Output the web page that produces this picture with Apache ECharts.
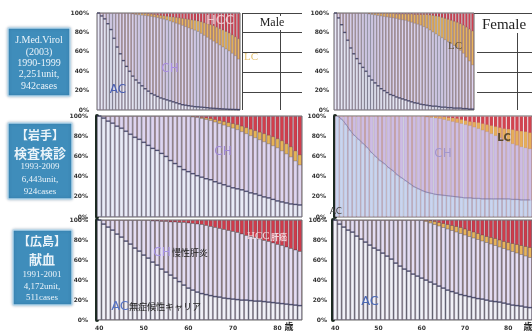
<!DOCTYPE html>
<html>
<head>
<meta charset="utf-8">
<script src="https://cdn.jsdelivr.net/npm/echarts@6/dist/echarts.min.js"></script>
<style>html,body{margin:0;padding:0;background:#fff}#c{width:532px;height:333px}</style>
</head>
<body>
<div id="c"></div>
<script>
// ages (categories)
var ages = ['40','41','42','43','44','45','46','47','48','49','50','51','52','53','54','55','56','57','58','59','60','61','62','63','64','65','66','67','68','69','70','71','72','73','74','75','76','77','78','79','80','81','82','83','84','85'];
var yTicks = [0, 20, 40, 60, 80, 100];
// cumulative share (%) : top of AC, top of CH, top of LC; total = 100
var total = [100,100,100,100,100,100,100,100,100,100,100,100,100,100,100,100,100,100,100,100,100,100,100,100,100,100,100,100,100,100,100,100,100,100,100,100,100,100,100,100,100,100,100,100,100,100];

// J.Med.Virol male
var acTopJmMale = [100,97,94,89,83,74,65,58,51,45,40,35,31,28,25,22,19.5,17,15.5,14,12.5,11.5,10.5,9.5,8.5,7.5,6.5,5.5,5,4.5,4,3.5,3.3,3,2.7,2.4,2,1.8,1.6,1.4,1.2,1,0.8,0.7,0.6,0.5];
var chTopJmMale = [100,100,100,100,100,100,100,100,100,100,100,99.5,99,98.7,98.3,98,97.5,97,96.5,95.8,95,94.2,93.3,92.3,91.2,90,89,87.8,86.5,85.2,84,82.8,81.5,79.5,77.5,75.5,73.5,71.5,69.5,67.5,65.5,63.5,61.5,59,56.5,53];
var lcTopJmMale = [100,100,100,100,100,100,100,100,100,100,100,100,100,100,100,100,99.7,99.4,99,98.5,98,97.6,97.2,96.8,96.4,96,95.5,95,94.5,94,93.5,93,92.3,91.5,90.5,89.5,88.5,87.5,86,84.5,83,81.5,80,78,76,74];
// J.Med.Virol female
var acTopJmFemale = [100,95,88,80,72,64,58,53,48,44,40,35,31,28,25,22,20,18,16,15,13.5,12.5,11.5,10.5,9.5,8.5,7.5,7,6,5.5,5,4.5,4,4,3.5,3,3,2.5,2.5,2,2,2,1.5,1.5,1,1];
var chTopJmFemale = [100,100,100,100,100,100,100,100,100,100,100,99.5,99,98.5,98,97.5,97,96.5,96,95.5,95,94,93.5,93,92,91,90,89,88,86.5,85,83,81,79,77,75,73,71,69,67,65,62,59,55,51,47];
var lcTopJmFemale = [100,100,100,100,100,100,100,100,100,100,100,100,100,100,100,100,100,100,100,100,99.5,99.5,99.5,99.5,99.5,99.5,99,99,99,99,99,98.5,98,97.5,97,96,95,94,93,92,91,89.5,88,86,84,82];
// Iwate male
var acTopIwMale = [100,98,95,93,90,88,85,82,79,77,74,71,68,66,63,60,56,53,50,47,45,43,41,39.5,38,37,35,33.5,32,30.5,29,28,27,25.5,24,23,21.5,20,19,17.5,16,15,14,13,12.5,12];
var chTopIwMale = [100,100,100,100,100,100,100,100,100,100,100,100,100,100,100,100,100,100,100,100,100,99.5,99,98,97,96,94.5,93,91.5,90,88.5,87,85,83,81,79,77,75,73,71,69,66,63,60,56,52];
var lcTopIwMale = [100,100,100,100,100,100,100,100,100,100,100,100,100,100,100,100,100,100,100,100,100,100,99.5,99,98.5,98,97,96,95,94,93,92,90.5,89,87.5,86,84.5,83,81.5,80,78,76,73,70,66,62];
// Iwate female
var acTopIwFemale = [100,97,92,86,81,77,73,69,64,60,56,53,49,46,42,39,36,33,30,28,26,24.5,23.5,22.5,22,21.5,21,20.5,20,19.5,19,19,18.5,18.5,18,18,18,18,18,18,18,17.5,17.5,17,17,17];
var chTopIwFemale = [100,100,100,100,100,100,100,100,100,100,100,100,100,100,100,100,100,100,100,100,100,99.5,99,98.5,98,97,96,95,94,93,92,91,89.5,88,86.5,85,83,81,79,77,75,73,71.5,70,69,68];
var lcTopIwFemale = [100,100,100,100,100,100,100,100,100,100,100,100,100,100,100,100,100,100,100,100,100,100,100,100,100,99.5,99,98.5,98,97,96,95,94.5,94,93,92,91,90,89,88,87.5,87,86,85.5,85,84];
// Hiroshima male (no LC band)
var acTopHsMale = [100,96,93,90,86,83,79,76,72,69,65,62,58,55,51,48,45,42,38.5,35,32,30,28,26.5,25.5,24.5,23.5,23,22,21.5,21,20.5,20,20,19.5,19,19,18.5,18,17.5,17,16.5,16,15.5,15,14.5];
var chTopHsMale = [100,100,100,100,100,100,100,100,100,100,100,100,99.5,99.5,99,99,98.5,98.5,98,98,97.5,97,96.5,96,95,94,93,92,91,90,89,88,86.5,85,84,83,81.5,80,79,77.5,76,75,73.5,72,70.5,69];
var lcTopHsMale = chTopHsMale;
// Hiroshima female
var acTopHsFemale = [100,96,93,90,88,84,81,78,75,72,70,67,64,61,57,54,51,49,46,44,42,40,38,36,34,32,30,28.5,27,25.5,24.5,23.5,22.5,21.5,21,20,19,18.5,18,17,16,15,14.5,14,13,12.5];
var chTopHsFemale = [100,100,100,100,100,100,100,100,100,100,100,100,100,100,100,100,100,100,100,100,100,99,97.5,96,94.5,93,91.5,90,88.5,87,85.5,84,82.5,81,79.5,78,76.5,75,73.5,72,70.5,69,67.5,66,64.5,63];
var lcTopHsFemale = [100,100,100,100,100,100,100,100,100,100,100,100,100,100,100,100,100,100,100,100,100,100,99.5,99,98,97,96,95,94,93,91.5,90,88.5,87,85.5,84,83,82,80.5,79,78,77,76,75,74,73];

var panels = [
  {g:{left:97,top:13,width:143,height:97}, ac:acTopJmMale, ch:chTopJmMale, lc:lcTopJmMale, xl:false, bar:false, lm:8,
   col:['#e9eaf7','#ddd5f1','#eab75e','#d1404e'], stripe:'rgba(80,80,105,0.28)', dash:[3.1,1.3]},
  {g:{left:334,top:13,width:140,height:97}, ac:acTopJmFemale, ch:chTopJmFemale, lc:lcTopJmFemale, xl:false, bar:false, lm:5,
   col:['#e9eaf7','#ddd5f1','#eab75e','#d1404e'], stripe:'rgba(80,80,105,0.28)', dash:[3,1.3]},
  {g:{left:97,top:116,width:205,height:101}, ac:acTopIwMale, ch:chTopIwMale, lc:lcTopIwMale, xl:false, bar:true, lm:9,
   col:['#e9ebf7','#ded5f0','#e6b456','#d23d4b'], stripe:'rgba(70,70,95,0.32)', dash:[4.4,1.3]},
  {g:{left:335,top:116,width:205,height:101}, ac:acTopIwFemale, ch:chTopIwFemale, lc:lcTopIwFemale, xl:false, bar:true, lm:9,
   col:['#c9d5ef','#cdbde4','#e7ae5a','#d3434f'], stripe:'rgba(90,90,130,0.1)', dash:null},
  {g:{left:97,top:220,width:205,height:100}, ac:acTopHsMale, ch:chTopHsMale, lc:lcTopHsMale, xl:true, bar:true, lm:9,
   col:['#f1f1f8','#e4ddf3','#e8b45a','#cf3b4a'], stripe:'rgba(60,60,80,0.36)', dash:[4.4,1.3]},
  {g:{left:333,top:220,width:205,height:100}, ac:acTopHsFemale, ch:chTopHsFemale, lc:lcTopHsFemale, xl:true, bar:true, lm:6,
   col:['#f1f1f8','#e4ddf3','#e8b45a','#cf3b4a'], stripe:'rgba(60,60,80,0.36)', dash:[4.4,1.3]}
];

var grid = [], xAxis = [], yAxis = [], series = [];
panels.forEach(function (p, i) {
  grid.push(Object.assign({show:true, borderColor:'#666', borderWidth:1, backgroundColor:'transparent'}, p.g));
  xAxis.push({type:'category', gridIndex:i, data:ages, boundaryGap:true,
    axisLine:{show:false}, axisTick:{show:false}, splitLine:{show:false},
    axisLabel:{show:p.xl, interval:9, fontSize:6, color:'#333', fontWeight:'bold', margin:5, fontFamily:'DejaVu Sans'}});
  yAxis.push({type:'value', gridIndex:i, min:yTicks[0], max:yTicks[yTicks.length-1], interval:20,
    splitLine:{show:false}, axisTick:{show:false},
    axisLine:{show:p.bar, lineStyle:{color:'#1c2a22', width:4}},
    axisLabel:{fontSize:6, color:'#333', fontWeight:'bold', margin:p.lm, fontFamily:'DejaVu Sans', formatter:'{value}%'}});
  var layers = [['HCC', total, p.col[3]], ['LC', p.lc, p.col[2]], ['CH', p.ch, p.col[1]], ['AC', p.ac, p.col[0]]];
  layers.forEach(function (l, k) {
    series.push({type:'bar', name:l[0], xAxisIndex:i, yAxisIndex:i, data:l[1], barGap:'-100%', barCategoryGap:'0%',
      itemStyle:{color:l[2], borderColor:p.stripe, borderWidth:1}, z:2+k, animation:false, silent:true});
  });
  if (p.dash) {
    series.push({type:'scatter', xAxisIndex:i, yAxisIndex:i, data:p.ac, symbol:'rect', symbolSize:p.dash,
      itemStyle:{color:'#34375c'}, z:10, animation:false, silent:true});
  } else {
    series.push({type:'line', xAxisIndex:i, yAxisIndex:i, data:p.ac, smooth:true,
      symbol:'none', z:10, animation:false, silent:true,
      lineStyle:{color:'rgba(100,100,150,0.6)', width:1}});
  }
});

function t(x, y, s, font, fill, align) {
  return {type:'text', x:x, y:y, z:100, silent:true,
    style:{text:s, font:font, fill:fill, align:align||'center', verticalAlign:'middle', textAlign:align||'center', textVerticalAlign:'middle'}};
}
function ln(x1, y1, x2, y2) {
  return {type:'line', z:50, silent:true, shape:{x1:x1, y1:y1, x2:x2, y2:y2}, style:{stroke:'#444', lineWidth:1}};
}
function box(x, y, w, h) {
  return {type:'rect', z:40, silent:true, shape:{x:x, y:y, width:w, height:h, r:1},
    style:{fill:'#3f8dbb', stroke:'rgba(190,220,238,0.9)', lineWidth:1.5, shadowBlur:3, shadowColor:'rgba(0,60,100,0.35)'}};
}
var serif = 'Liberation Serif';
var cjk = '"Noto Sans CJK JP"';
var boxText = '#eaf3f9';
var graphics = [
  // Male legend area
  ln(242.5,13,242.5,110), ln(280.5,13,280.5,110),
  ln(242,13.5,302,13.5), ln(242,32.5,302,32.5), ln(242,52.5,302,52.5), ln(242,72.5,302,72.5), ln(242,92.5,302,92.5),
  {type:'rect', z:55, silent:true, shape:{x:256, y:16, width:33, height:14}, style:{fill:'#fff'}},
  t(272, 23, 'Male', '12px ' + serif, '#222'),
  // Female legend area
  ln(474,13.5,532,13.5), ln(477,52.5,532,52.5), ln(477,72.5,532,72.5), ln(477,92.5,532,92.5), ln(517.5,33,517.5,110),
  t(504, 25, 'Female', '15px ' + serif, '#222'),
  // source boxes
  box(8, 28, 62, 68),
  t(39, 40, 'J.Med.Virol', '10px ' + serif, boxText),
  t(39, 52, '(2003)', '10px ' + serif, boxText),
  t(39, 63, '1990-1999', '10px ' + serif, boxText),
  t(39, 74, '2,251unit,', '10px ' + serif, boxText),
  t(39, 86, '942cases', '10px ' + serif, boxText),
  box(8, 123, 64, 76),
  t(40, 135, '【岩手】', 'bold 12px ' + cjk, boxText),
  t(40, 153, '検査検診', 'bold 13px ' + cjk, boxText),
  t(40, 167, '1993-2009', '9px ' + serif, boxText),
  t(40, 180, '6,443unit,', '9px ' + serif, boxText),
  t(40, 192, '924cases', '9px ' + serif, boxText),
  box(13, 230, 59, 75),
  t(42, 241, '【広島】', 'bold 12px ' + cjk, boxText),
  t(42, 259, '献血', 'bold 13px ' + cjk, boxText),
  t(42, 275, '1991-2001', '9px ' + serif, boxText),
  t(42, 287, '4,172unit,', '9px ' + serif, boxText),
  t(42, 298, '511cases', '9px ' + serif, boxText),
  // in-chart annotations
  t(220, 21, 'HCC', '13px DejaVu Sans', '#f2c4cc'),
  t(251, 57, 'LC', '11px ' + serif, '#e6c272'),
  t(170, 69, 'CH', '12px DejaVu Sans', '#a98de0'),
  t(118, 90, 'AC', '12px DejaVu Sans', '#4a5fb2'),
  t(455, 46, 'LC', '11px ' + serif, '#5e4f33'),
  t(223, 152, 'CH', '12px DejaVu Sans', '#a088d4'),
  t(443, 154, 'CH', '12px DejaVu Sans', '#a396cc'),
  t(504, 138, 'LC', 'bold 10px DejaVu Sans', '#5a4a30'),
  t(336, 212, 'AC', '9px DejaVu Sans', '#444'),
  t(162, 253, 'CH', '12px DejaVu Sans', '#a996e6'),
  t(172, 253, '慢性肝炎', '9px ' + cjk, '#222', 'left'),
  t(247, 236, 'HCC', '11px ' + serif, '#f6d6dc', 'left'),
  t(271, 237, '肝癌', 'bold 8px ' + cjk, '#f6d6dc', 'left'),
  t(120, 307, 'AC', '13px DejaVu Sans', '#5674c6'),
  t(129, 307, '無症候性キャリア', '9px ' + cjk, '#222', 'left'),
  t(370, 302, 'AC', '13px DejaVu Sans', '#4a69b6'),
  t(289, 327, '歳', 'bold 9px ' + cjk, '#222'),
  t(528, 327, '歳', 'bold 9px ' + cjk, '#222')
];

var chart = echarts.init(document.getElementById('c'), null, {renderer:'canvas'});
chart.setOption({
  animation:false,
  backgroundColor:'#ffffff',
  grid:grid, xAxis:xAxis, yAxis:yAxis, series:series,
  graphic:{elements:graphics}
});
</script>
</body>
</html>
